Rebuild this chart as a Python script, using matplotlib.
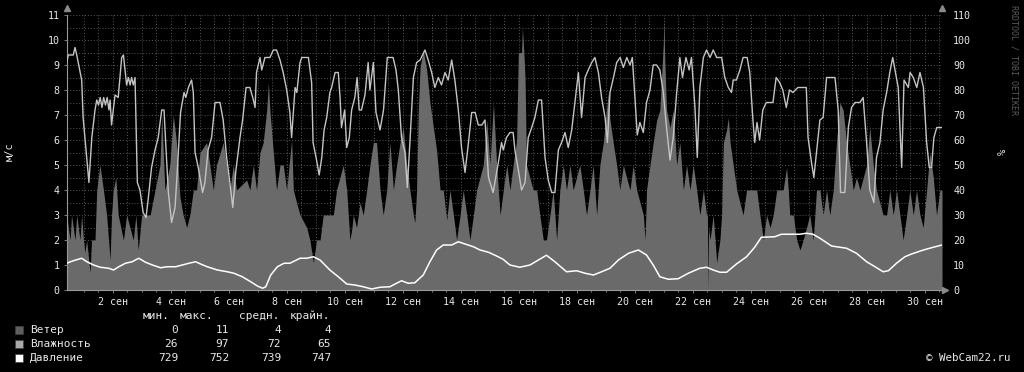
import matplotlib
matplotlib.use('Agg')
import matplotlib.pyplot as plt
import numpy as np
from matplotlib.patches import Rectangle

# ---------------- data (day of September, values) ----------------
hum_day = [0.40, 0.46, 0.63, 0.69, 0.75, 0.80, 0.92, 0.97, 1.07, 1.17, 1.27, 1.38, 1.44, 1.50, 1.56, 1.62, 1.68,
           1.74, 1.80, 1.86, 1.90, 1.95, 2.07, 2.18, 2.30, 2.36, 2.47, 2.53, 2.59, 2.64, 2.70, 2.76, 2.84, 2.93,
           3.04, 3.14, 3.22, 3.33, 3.45, 3.56, 3.68, 3.76, 3.83, 3.91, 4.02, 4.14, 4.22, 4.33, 4.45, 4.51, 4.60,
           4.71, 4.77, 4.83, 4.94, 5.09, 5.17, 5.28, 5.40, 5.52, 5.69, 5.80, 5.92, 6.03, 6.13, 6.24, 6.38, 6.47,
           6.59, 6.72, 6.82, 6.90, 6.95, 7.07, 7.13, 7.24, 7.41, 7.53, 7.64, 7.76, 7.87, 7.99, 8.10, 8.16, 8.28,
           8.34, 8.45, 8.51, 8.74, 8.85, 8.90, 9.02, 9.11, 9.20, 9.28, 9.37, 9.48, 9.54, 9.66, 9.77, 9.83, 9.88,
           9.99, 10.06, 10.15, 10.23, 10.34, 10.42, 10.49, 10.57, 10.69, 10.80, 10.86, 10.98, 11.07, 11.21,
           11.33, 11.46, 11.66, 11.76, 11.84, 11.95, 12.07, 12.15, 12.24, 12.36, 12.47, 12.59, 12.76, 12.87,
           12.99, 13.10, 13.22, 13.33, 13.45, 13.56, 13.68, 13.79, 13.91, 14.02, 14.14, 14.26, 14.37, 14.49,
           14.60, 14.72, 14.83, 14.95, 15.11, 15.29, 15.40, 15.46, 15.57, 15.69, 15.80, 15.86, 15.98, 16.09,
           16.21, 16.32, 16.44, 16.55, 16.67, 16.78, 16.90, 17.01, 17.13, 17.24, 17.36, 17.47, 17.59, 17.70,
           17.82, 17.93, 18.05, 18.16, 18.28, 18.39, 18.51, 18.62, 18.74, 18.85, 18.97, 19.05, 19.14, 19.26,
           19.37, 19.49, 19.60, 19.72, 19.83, 19.91, 20.00, 20.08, 20.17, 20.29, 20.40, 20.52, 20.63, 20.75,
           20.86, 20.98, 21.09, 21.21, 21.32, 21.44, 21.55, 21.64, 21.76, 21.87, 21.95, 22.07, 22.15, 22.24,
           22.36, 22.47, 22.59, 22.70, 22.82, 22.99, 23.10, 23.22, 23.33, 23.39, 23.50, 23.62, 23.73, 23.87,
           23.96, 24.07, 24.13, 24.21, 24.30, 24.41, 24.53, 24.76, 24.87, 24.99, 25.10, 25.22, 25.33, 25.45,
           25.62, 25.91, 25.97, 26.09, 26.17, 26.26, 26.38, 26.49, 26.61, 26.90, 27.01, 27.09, 27.24, 27.36,
           27.47, 27.59, 27.76, 27.87, 27.99, 28.10, 28.24, 28.33, 28.45, 28.56, 28.68, 28.79, 28.89, 28.97,
           29.08, 29.20, 29.28, 29.43, 29.49, 29.60, 29.72, 29.83, 29.95, 30.06, 30.15, 30.23, 30.31, 30.41,
           30.52, 30.59]
hum_pct = [91, 94, 94, 97, 94, 91, 84, 69, 56, 43, 61, 72, 76, 74, 77, 73, 77,
           74, 77, 72, 76, 66, 78, 77, 93, 94, 82, 85, 82, 85, 82, 85, 43, 40,
           31, 29, 37, 49, 56, 61, 72, 72, 56, 39, 27, 33, 48, 71, 79, 77, 81,
           84, 79, 55, 49, 39, 43, 56, 61, 75, 75, 68, 53, 43, 33, 48, 61, 68,
           81, 81, 77, 73, 87, 93, 88, 93, 93, 96, 96, 92, 87, 80, 71, 61, 81,
           79, 91, 93, 93, 83, 59, 52, 46, 53, 64, 69, 79, 81, 87, 87, 77, 65,
           72, 57, 61, 72, 77, 85, 72, 72, 78, 91, 80, 91, 71, 64,
           72, 93, 93, 88, 80, 61, 55, 41, 59, 85, 91, 92, 96, 92,
           87, 81, 85, 82, 87, 84, 92, 84, 72, 57, 47, 59, 71, 71,
           66, 66, 68, 45, 39, 51, 59, 56, 61, 63, 63, 56, 48, 40,
           43, 61, 65, 69, 76, 76, 53, 44, 39, 39, 56, 59, 63, 57,
           64, 75, 87, 69, 85, 88, 91, 93, 87, 77, 69, 59, 79, 85,
           91, 93, 89, 93, 90, 93, 77, 62, 67, 63, 75, 80, 90, 90,
           88, 79, 65, 52, 61, 79, 93, 85, 93, 88, 93, 73, 53, 81,
           93, 96, 93, 96, 93, 93, 85, 81, 79, 84, 84, 88, 93, 93,
           87, 68, 59, 67, 60, 72, 75, 75, 85, 83, 80, 73, 80, 79,
           81, 81, 61, 51, 45, 55, 68, 69, 85, 85, 72, 39, 39, 65,
           73, 75, 75, 77, 59, 40, 35, 53, 59, 72, 79, 87, 93, 88,
           81, 49, 84, 81, 87, 85, 81, 87, 81, 59, 49, 49, 61, 65,
           65, 65]

pres_day = [0.40, 0.63, 0.92, 1.10, 1.33, 1.56, 1.85, 2.02, 2.20, 2.43, 2.66, 2.89, 3.12, 3.36, 3.64, 3.87,
            4.16, 4.39, 4.62, 4.85, 5.02, 5.25, 5.60, 5.94, 6.17, 6.46, 6.75, 6.98, 7.16, 7.27, 7.44, 7.67,
            7.90, 8.10, 8.45, 8.68, 8.91, 9.14, 9.48, 9.77, 10.06, 10.34, 10.63, 10.92, 11.21, 11.55, 11.78,
            11.95, 12.18, 12.41, 12.70, 12.93, 13.16, 13.39, 13.68, 13.91, 14.14, 14.43, 14.66, 14.95, 15.23,
            15.45, 15.69, 16.03, 16.38, 16.67, 16.95, 17.24, 17.64, 17.99, 18.28, 18.57, 18.85, 19.14, 19.43,
            19.78, 20.12, 20.40, 20.63, 20.86, 21.15, 21.49, 21.84, 22.24, 22.47, 22.70, 22.93, 23.16, 23.50,
            23.85, 24.13, 24.36, 24.82, 25.05, 25.68, 25.91, 26.14, 26.38, 26.78, 27.30, 27.64, 27.99, 28.28,
            28.56, 28.74, 29.02, 29.31, 29.54, 29.95, 30.29, 30.59]
pres_mm = [739.7, 740.7, 741.7, 740.3, 739.0, 738.1, 737.7, 737.0, 738.3, 739.7, 740.3, 741.7, 740.1, 739.0,
           737.9, 738.3, 738.3, 739.0, 739.7, 740.3, 739.4, 738.3, 737.0, 736.3, 735.7, 734.3, 732.3, 730.6,
           729.7, 730.3, 735.0, 738.3, 739.7, 739.7, 741.7, 741.7, 742.3, 741.0, 737.0, 734.3, 731.4, 731.0,
           730.3, 729.4, 730.1, 730.3, 731.7, 732.7, 731.7, 731.9, 735.0, 740.3, 745.0, 747.0, 747.0, 748.3,
           747.4, 746.3, 745.0, 744.1, 742.6, 741.3, 739.0, 738.1, 739.0, 741.0, 742.9, 740.3, 736.3, 736.7,
           735.7, 735.0, 736.3, 737.7, 741.0, 743.7, 745.0, 743.0, 739.0, 734.3, 733.3, 733.5, 735.7, 737.7,
           738.1, 737.0, 736.1, 736.1, 739.4, 742.3, 746.1, 750.1, 750.3, 751.3, 751.3, 751.7, 751.3, 749.7,
           746.6, 745.7, 743.7, 740.3, 738.3, 736.3, 736.7, 739.7, 742.3, 743.4, 745.0, 746.1, 747.0]

wind_day = [0.40, 0.52, 0.57, 0.69, 0.75, 0.86, 0.92, 0.98, 1.03, 1.09, 1.21, 1.26, 1.38, 1.44, 1.55, 1.67,
            1.78, 1.90, 1.95, 2.01, 2.10, 2.18, 2.36, 2.47, 2.70, 2.79, 2.87, 2.99, 3.28, 3.45, 3.62, 3.68,
            3.79, 3.96, 4.08, 4.19, 4.31, 4.42, 4.54, 4.65, 4.77, 4.88, 5.00, 5.23, 5.34, 5.46, 5.57, 5.80,
            5.92, 6.03, 6.15, 6.26, 6.61, 6.72, 6.84, 6.95, 7.07, 7.18, 7.30, 7.36, 7.41, 7.53, 7.64, 7.76,
            7.87, 7.99, 8.16, 8.22, 8.33, 8.45, 8.68, 8.79, 8.91, 9.02, 9.14, 9.25, 9.60, 9.71, 9.94, 10.06,
            10.17, 10.23, 10.29, 10.40, 10.52, 10.63, 10.75, 10.86, 10.98, 11.09, 11.21, 11.32, 11.44, 11.55,
            11.67, 11.78, 11.90, 12.01, 12.13, 12.24, 12.36, 12.41, 12.47, 12.53, 12.59, 12.70, 12.82, 12.93,
            13.05, 13.16, 13.28, 13.39, 13.51, 13.62, 13.74, 13.85, 13.97, 14.08, 14.20, 14.31, 14.43, 14.54,
            14.77, 14.89, 15.00, 15.12, 15.23, 15.35, 15.46, 15.58, 15.69, 15.80, 15.92, 15.98, 16.09, 16.12,
            16.17, 16.21, 16.26, 16.49, 16.61, 16.72, 16.84, 16.95, 17.07, 17.18, 17.30, 17.41, 17.53, 17.64,
            17.76, 17.87, 18.10, 18.22, 18.33, 18.45, 18.56, 18.68, 18.79, 18.91, 19.02, 19.08, 19.14, 19.25,
            19.37, 19.48, 19.60, 19.71, 19.83, 19.94, 20.06, 20.29, 20.35, 20.40, 20.52, 20.63, 20.75, 20.86,
            20.98, 21.00, 21.03, 21.09, 21.21, 21.32, 21.44, 21.55, 21.67, 21.78, 21.90, 22.01, 22.13, 22.24,
            22.36, 22.47, 22.50, 22.52, 22.54, 22.59, 22.70, 22.82, 22.93, 22.99, 23.05, 23.16, 23.22, 23.28,
            23.39, 23.51, 23.73, 23.85, 24.20, 24.31, 24.43, 24.54, 24.66, 24.77, 24.89, 25.11, 25.23, 25.29,
            25.34, 25.46, 25.58, 25.69, 25.80, 25.92, 26.03, 26.15, 26.26, 26.38, 26.49, 26.61, 26.72, 26.84,
            26.95, 27.07, 27.18, 27.30, 27.41, 27.53, 27.64, 27.76, 27.99, 28.10, 28.22, 28.33, 28.56, 28.68,
            28.79, 28.91, 29.02, 29.14, 29.25, 29.37, 29.48, 29.60, 29.71, 29.83, 29.94, 30.06, 30.17, 30.29,
            30.40, 30.52, 30.59]
wind_ms = [3.0, 2.0, 3.0, 2.0, 3.0, 2.0, 3.0, 2.0, 1.5, 2.0, 0.7, 2.0, 2.0, 4.0, 5.0, 4.0,
           3.0, 1.2, 3.0, 4.0, 4.5, 3.0, 2.0, 3.0, 2.0, 3.0, 1.6, 3.0, 3.0, 4.0, 5.0, 7.0,
           4.0, 5.0, 7.0, 5.9, 3.7, 3.0, 2.5, 3.0, 4.0, 4.0, 5.5, 5.9, 5.0, 4.0, 5.0, 5.9,
           5.0, 4.0, 5.0, 4.0, 4.4, 4.0, 5.0, 4.0, 5.5, 5.9, 7.2, 8.3, 7.2, 5.5, 4.0, 5.0,
           5.0, 4.0, 6.0, 4.0, 3.5, 3.0, 2.5, 2.0, 1.1, 2.0, 2.0, 3.0, 3.0, 4.0, 5.0, 4.0,
           2.0, 2.4, 3.0, 2.5, 3.5, 3.0, 4.0, 5.0, 5.9, 5.9, 4.0, 3.0, 4.0, 5.9,
           4.0, 5.0, 5.9, 6.5, 5.0, 4.0, 3.0, 2.7, 4.0, 7.2, 8.9, 9.6, 8.8, 7.5,
           6.5, 5.6, 4.0, 4.0, 2.8, 4.0, 3.0, 2.0, 3.0, 4.0, 3.0, 2.0, 3.0, 4.0,
           5.0, 6.8, 5.0, 7.5, 5.0, 3.0, 4.0, 5.0, 4.0, 5.0, 6.0, 9.5, 9.5, 10.5,
           9.5, 8.5, 5.0, 4.0, 4.0, 3.0, 2.0, 2.0, 3.0, 4.0, 2.0, 4.0, 5.0, 4.0,
           5.0, 4.0, 5.0, 4.0, 3.0, 4.0, 5.0, 3.0, 5.0, 5.9, 7.2, 7.9, 6.8, 5.9,
           5.0, 4.0, 5.0, 4.5, 4.0, 5.0, 4.0, 3.0, 2.0, 4.0, 5.0, 5.9, 6.8, 7.2,
           9.9, 10.9, 9.2, 7.2, 6.5, 7.2, 5.0, 5.9, 4.0, 5.0, 4.0, 5.0, 4.0, 3.0,
           4.0, 3.0, 3.0, 0.0, 2.5, 2.0, 3.0, 1.1, 2.0, 3.0, 5.9, 6.4, 6.9, 5.9,
           5.0, 4.0, 3.0, 4.0, 4.0, 3.0, 2.0, 3.0, 2.5, 3.0, 4.0, 4.0, 4.9, 4.0,
           3.0, 3.0, 2.0, 1.6, 2.0, 2.5, 3.0, 2.0, 4.0, 4.0, 3.0, 4.0, 3.0, 4.0,
           5.9, 7.5, 7.2, 5.9, 5.0, 4.0, 4.5, 4.0, 5.0, 6.5, 5.0, 4.0, 3.0, 3.0,
           4.0, 3.0, 4.0, 3.0, 2.0, 3.0, 4.0, 3.0, 4.0, 3.0, 2.5, 4.0, 5.5, 4.5,
           3.0, 4.0, 4.0]

x_ticks = [2, 4, 6, 8, 10, 12, 14, 16, 18, 20, 22, 24, 26, 28, 30]
x_labels = [f"{d} сен" for d in x_ticks]
left_ticks = list(range(0, 12))
right_ticks = list(range(0, 111, 10))

legend_names = ["Ветер", "Влажность", "Давление"]
legend_cols = ["мин.", "макс.", "средн.", "крайн."]
legend_vals = [["0", "11", "4", "4"], ["26", "97", "72", "65"], ["729", "752", "739", "747"]]
legend_colors = ["#5e5e5e", "#aaaaaa", "#ffffff"]

PRES_BASE = 729.0

# ---------------- figure ----------------
W, H = 1024, 372
MONO = "DejaVu Sans Mono"
plt.rcParams['font.family'] = [MONO, 'DejaVu Sans']
fig = plt.figure(figsize=(W / 100, H / 100), dpi=100, facecolor='black')
L, R, T, B = 67, 942, 15, 290
ax = fig.add_axes([L / W, 1 - B / H, (R - L) / W, (B - T) / H])
ax.set_facecolor('black')
ax.set_xlim(0.414, 30.59)
ax.set_ylim(0, 11)

ax.fill_between(wind_day, wind_ms, 0, color='#6a6a6a', linewidth=0, zorder=1)
ax.plot(hum_day, np.array(hum_pct) / 10.0, color='#c4c4c4', lw=1.0, zorder=3)
ax.plot(pres_day, (np.array(pres_mm) - PRES_BASE) / 10.0, color='white', lw=1.1, zorder=4)

# grid
ax.set_axisbelow(False)
ax.set_yticks(left_ticks)
ax.set_yticks(np.arange(0, 11.01, 0.5), minor=True)
ax.set_xticks(x_ticks)
ax.set_xticks(np.arange(1, 31, 0.5), minor=True)
ax.grid(True, which='both', color='#6e6e6e', linestyle=(0, (1, 2)), linewidth=0.7, alpha=0.8)
ax.set_xticklabels(x_labels)
ax.tick_params(axis='both', which='both', colors='#909090', labelcolor='#e8e8e8', labelsize=7.2,
               length=2, width=0.6)
ax.tick_params(axis='x', which='major', pad=3)
ax.tick_params(axis='y', which='minor', length=0)
ax.tick_params(axis='x', which='minor', length=1.5)
for s in ['top', 'right']:
    ax.spines[s].set_visible(False)
for s in ['left', 'bottom']:
    ax.spines[s].set_color('#9a9a9a')
    ax.spines[s].set_linewidth(0.8)

tw = ax.twinx()
tw.set_ylim(0, 110)
tw.set_yticks(right_ticks)
tw.tick_params(axis='y', colors='#909090', labelcolor='#e8e8e8', labelsize=7.2, length=0, pad=8)
for s in tw.spines.values():
    s.set_visible(False)

# axis arrows
ax.plot([0.414], [11.28], marker='^', color='#8a8a8a', markersize=4, clip_on=False, zorder=6)
ax.plot([30.59], [11.28], marker='^', color='#8a8a8a', markersize=4, clip_on=False, zorder=6)
ax.plot([30.68], [0], marker='>', color='#8a8a8a', markersize=4, clip_on=False, zorder=6)


def px(x, y):
    return x / W, 1 - y / H


fig.text(*px(10, 152), "м/с", rotation=90, color='#e8e8e8', fontsize=7.5, ha='center', va='center')
fig.text(*px(1003, 152), "%", rotation=90, color='#e8e8e8', fontsize=7.5, ha='center', va='center')
fig.text(*px(1014, 5), "RRDTOOL / TOBI OETIKER", rotation=270, color='#5a5a5a', fontsize=6.0,
         ha='center', va='top')

# legend
col_right = [170, 213, 280, 330]
for cx, name in zip(col_right, legend_cols):
    fig.text(*px(cx, 316), name, color='#e8e8e8', fontsize=8, ha='right', va='center')
val_right = [178, 229, 281, 331]
rows_y = [330, 344, 358]
for i, (name, vals, c) in enumerate(zip(legend_names, legend_vals, legend_colors)):
    y = rows_y[i]
    fig.patches.append(Rectangle(px(15, y + 4), 8 / W, 8 / H, transform=fig.transFigure,
                                 facecolor=c, edgecolor='#404040', linewidth=0.5))
    fig.text(*px(30, y), name, color='#e8e8e8', fontsize=8, ha='left', va='center')
    for vx, v in zip(val_right, vals):
        fig.text(*px(vx, y), v, color='#e8e8e8', fontsize=8, ha='right', va='center')

fig.text(*px(1010, 358), "© WebCam22.ru", color='#e8e8e8', fontsize=7.8, ha='right', va='center')

fig.savefig('out.png', dpi=100, facecolor='black')
